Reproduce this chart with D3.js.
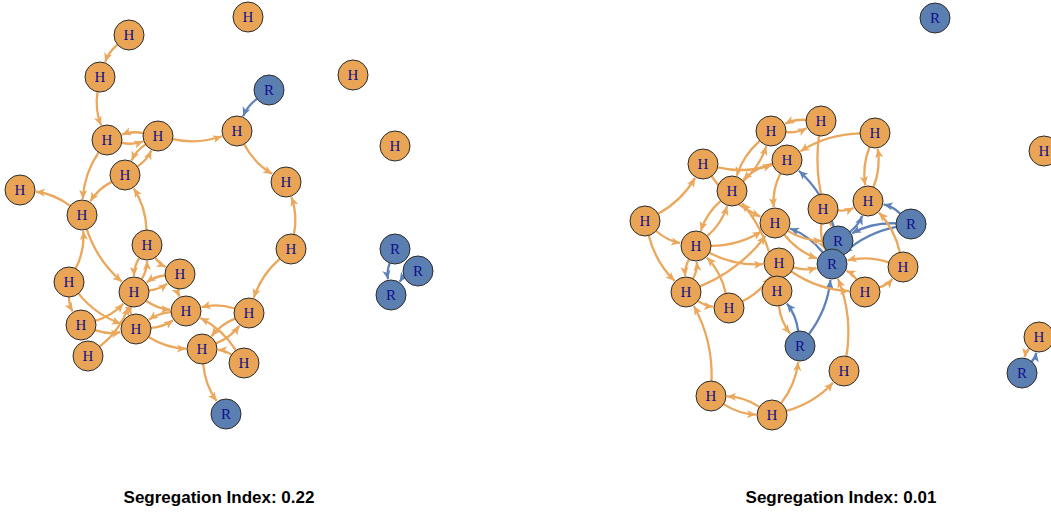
<!DOCTYPE html>
<html lang="en">
<head>
    <meta charset="UTF-8">
    <title>Segregation Networks</title>
    <style>
        body {
            margin: 0;
            background-color: #fff;
        }

        .node text {
            font: 15px 'Liberation Serif', 'DejaVu Serif', serif;
            fill: #0e0e8c;
            pointer-events: none;
        }

        .title {
            font: bold 17px 'Liberation Sans', Arial, sans-serif;
            fill: #000;
        }
    </style>
</head>
<body>

<div id="chart"></div>

<script src="https://d3js.org/d3.v7.min.js"></script>
<script>
    // Panel titles
    const titles = ["Segregation Index: 0.22", "Segregation Index: 0.01"];

    // Left network: node type and layout position (layout units)
    const leftTypes = ["H","H","H","H","R","H","H","H","H","H","H","H","H","H","H",
                       "H","H","H","H","H","H","H","H","H","H","R","R","R","R"];
    const leftX = [129,100,248,353,269,237,107,158,125,20,82,286,395,147,291,
                   69,180,134,186,249,81,136,88,202,244,226,395,418,391];
    const leftY = [35,77,17,75,90,131,140,136,175,190,215,182,146,245,249,
                   282,274,292,311,313,325,329,356,349,363,414,249,271,295];
    const leftEdges = [
        [0,1],[1,6],[6,7],[7,6],[7,8],[8,7],[7,5],[4,5],[5,11],[14,11],[14,19],
        [19,18],[6,10],[8,10],[10,9],[13,8],[15,10],[10,17],[15,20],[15,21],
        [20,21],[17,13],[13,17],[16,17],[17,16],[16,18],[13,16],[18,21],[21,18],
        [21,23],[23,19],[19,23],[24,18],[24,23],[23,25],[20,17],[22,17],[17,21],
        [17,18],[26,28],[27,28]
    ];

    // Right network
    const rightTypes = ["H","H","H","H","H","H","H","H","H","R","H","R","H","H",
                        "H","H","R","H","H","H","H","H","R","H","H","H","R","R"];
    const rightX = [171,221,103,187,132,45,175,223,96,238,179,232,86,129,
                    177,265,200,244,111,172,275,268,311,303,444,439,422,335];
    const rightY = [131,121,164,160,191,221,223,209,246,241,263,264,292,308,
                    291,292,346,371,396,415,133,201,224,267,151,337,373,18];
    const rightEdges = [
        [0,1],[1,0],[5,2],[5,8],[5,12],[2,3],[2,6],[0,4],[4,0],[3,4],[4,8],[8,4],
        [3,6],[20,3],[1,9],[7,21],[20,21],[21,20],[22,21],[22,9],[22,11],[9,21],
        [9,3],[11,6],[16,11],[16,14],[14,16],[19,16],[19,18],[18,19],[19,17],
        [17,11],[23,21],[23,11],[15,23],[10,11],[6,9],[8,6],[12,13],[13,8],
        [12,8],[8,12],[12,6],[8,10],[18,12],[14,4],[10,15],[6,11],[15,11],
        [7,11],[13,10],[26,25],[25,26]
    ];

    const width = 1051;
    const height = 513;
    const radius = 15;

    const fill = { H: "#e9a555", R: "#5b7fb1" };
    const edgeColor = { H: "#eba75c", R: "#5e82b8" };

    const svg = d3.select("#chart")
        .append("svg")
        .attr("width", width)
        .attr("height", height);

    const defs = svg.append("defs");
    Object.keys(edgeColor).forEach(k => {
        defs.append("marker")
            .attr("id", "arrow-" + k)
            .attr("viewBox", "0 -5 10 10")
            .attr("refX", 10)
            .attr("refY", 0)
            .attr("markerUnits", "userSpaceOnUse")
            .attr("markerWidth", 10)
            .attr("markerHeight", 9)
            .attr("orient", "auto")
            .append("path")
            .attr("d", "M0,-4.5L10,0L0,4.5L2.5,0Z")
            .attr("fill", edgeColor[k]);
    });

    const panels = [
        { types: leftTypes, xs: leftX, ys: leftY, edges: leftEdges, offset: 0, titleX: 219 },
        { types: rightTypes, xs: rightX, ys: rightY, edges: rightEdges, offset: 600, titleX: 841 }
    ];

    panels.forEach((p, pi) => {
        const x = d3.scaleLinear().domain([0, 451]).range([p.offset, p.offset + 451]);
        const y = d3.scaleLinear().domain([0, 450]).range([0, 450]);

        const nodes = p.types.map((t, i) => ({ t, x: x(p.xs[i]), y: y(p.ys[i]) }));
        const g = svg.append("g");

        // Curved edges, trimmed to the node circles
        g.append("g")
            .selectAll("path")
            .data(p.edges)
            .join("path")
            .attr("fill", "none")
            .attr("stroke-width", 2.3)
            .attr("stroke", d => edgeColor[nodes[d[0]].t])
            .attr("marker-end", d => "url(#arrow-" + nodes[d[0]].t + ")")
            .attr("d", d => {
                const s = nodes[d[0]], e = nodes[d[1]];
                const dx = e.x - s.x, dy = e.y - s.y;
                const cx = (s.x + e.x) / 2 - dy * 0.14;
                const cy = (s.y + e.y) / 2 + dx * 0.14;
                const a0 = Math.atan2(cy - s.y, cx - s.x);
                const a1 = Math.atan2(cy - e.y, cx - e.x);
                const sx = s.x + radius * Math.cos(a0), sy = s.y + radius * Math.sin(a0);
                const ex = e.x + (radius + 1) * Math.cos(a1), ey = e.y + (radius + 1) * Math.sin(a1);
                return `M${sx},${sy}Q${cx},${cy} ${ex},${ey}`;
            });

        const node = g.append("g")
            .selectAll("g")
            .data(nodes)
            .join("g")
            .attr("class", "node")
            .attr("transform", d => `translate(${d.x},${d.y})`);

        node.append("circle")
            .attr("r", radius)
            .attr("fill", d => fill[d.t])
            .attr("stroke", "#2b2b2b")
            .attr("stroke-width", 1);

        node.append("text")
            .attr("text-anchor", "middle")
            .attr("dy", "0.35em")
            .text(d => d.t);

        svg.append("text")
            .attr("class", "title")
            .attr("x", p.titleX)
            .attr("y", 503)
            .attr("text-anchor", "middle")
            .text(titles[pi]);
    });
</script>

</body>
</html>
